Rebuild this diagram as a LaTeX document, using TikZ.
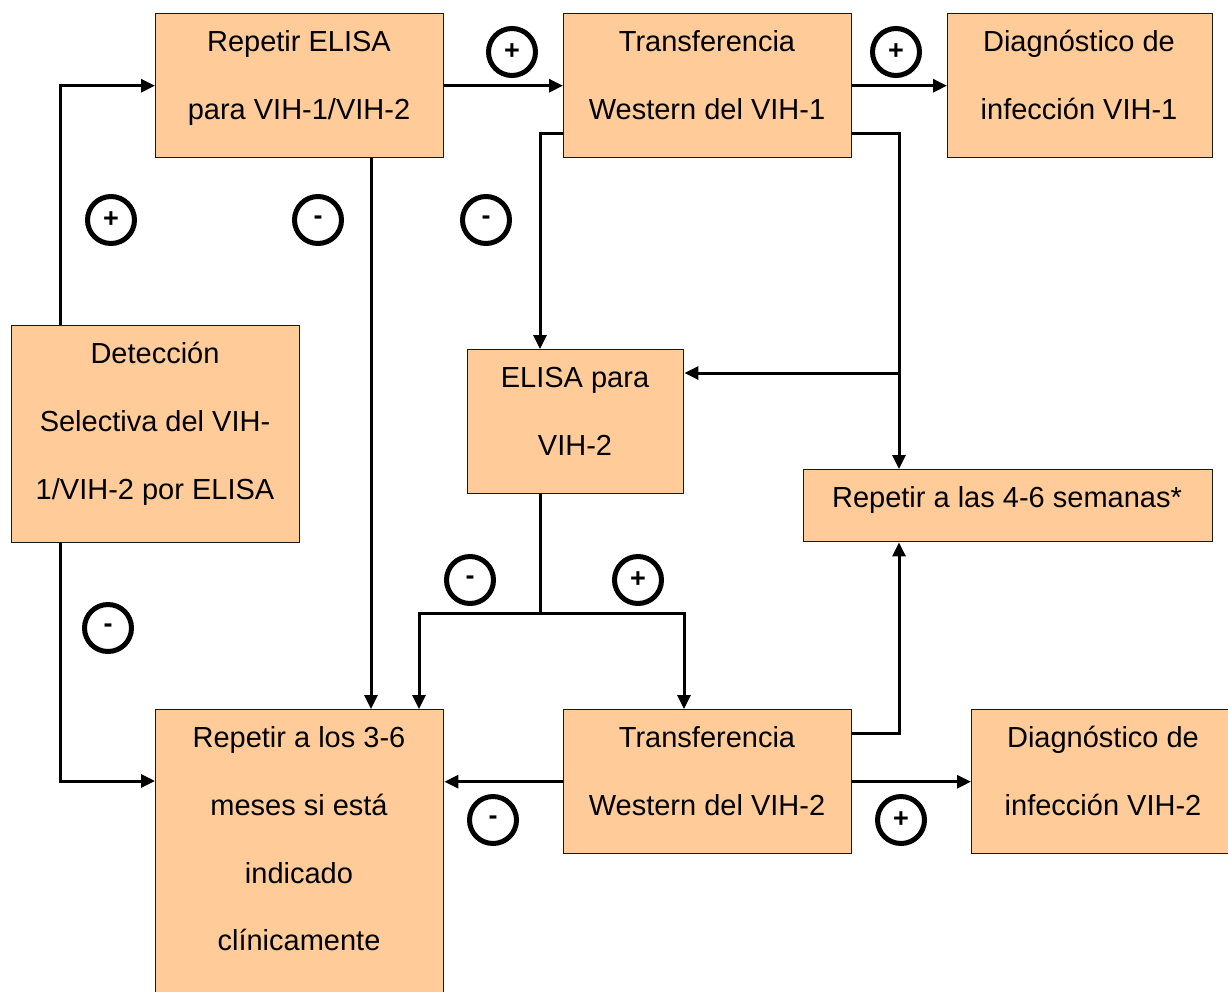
\documentclass[tikz,border=0pt]{standalone}
\usepackage{fontspec}
\setmainfont{Liberation Sans}
\usetikzlibrary{arrows.meta,calc}
\definecolor{boxfill}{HTML}{FFCC99}
\begin{document}
\begin{tikzpicture}[x=1pt,y=-1pt,
  box/.style={draw=black!90,line width=1.4pt,fill=boxfill,rectangle,inner sep=0pt,anchor=north west},
  txt/.style={anchor=base,inner sep=0pt,font=\fontsize{29}{34}\selectfont},
  conn/.style={line width=3pt,draw=black},
  arr/.style={conn,-{Triangle[length=14pt,width=13pt]}},
  sign/.style={circle,draw=black,line width=5pt,minimum size=47pt,inner sep=0pt,font=\fontsize{27}{30}\selectfont\bfseries}
]
\useasboundingbox (0,0) rectangle (1228,991);
\clip (0,0) rectangle (1228,991);
% boxes
\node[box,minimum width=288pt,minimum height=144pt] (rep1) at (155,13) {};
\node[box,minimum width=288pt,minimum height=144pt] (wb1) at (563,13) {};
\node[box,minimum width=265pt,minimum height=144pt] (dg1) at (947,13) {};
\node[box,minimum width=288pt,minimum height=217pt] (det) at (11,325) {};
\node[box,minimum width=216pt,minimum height=144pt] (el2) at (467,349) {};
\node[box,minimum width=409pt,minimum height=72pt] (r46) at (803,469) {};
\node[box,minimum width=288pt,minimum height=300pt] (r36) at (155,709) {};
\node[box,minimum width=288pt,minimum height=144pt] (wb2) at (563,709) {};
\node[box,minimum width=264pt,minimum height=144pt] (dg2) at (971,709) {};
% texts
\node[txt] (rep1a) at (299,51) {Repetir ELISA};
\node[txt] (rep1b) at (299,119) {para VIH-1/VIH-2};
\node[txt] (wb1a) at (707,51) {Transferencia};
\node[txt] (wb1b) at (707,119) {Western del VIH-1};
\node[txt] (dg1a) at (1079,51) {Diagnóstico de};
\node[txt] (dg1b) at (1079,119) {infección VIH-1};
\node[txt] (deta) at (155,363) {Detección};
\node[txt] (detb) at (155,431) {Selectiva del VIH-};
\node[txt] (detc) at (155,499) {1/VIH-2 por ELISA};
\node[txt] (el2a) at (575,387) {ELISA para};
\node[txt] (el2b) at (575,455) {VIH-2};
\node[txt] (r46a) at (1007,507) {Repetir a las 4-6 semanas*};
\node[txt] (r36a) at (299,747) {Repetir a los 3-6};
\node[txt] (r36b) at (299,815) {meses si está};
\node[txt] (r36c) at (299,883) {indicado};
\node[txt] (r36d) at (299,950) {clínicamente};
\node[txt] (wb2a) at (707,747) {Transferencia};
\node[txt] (wb2b) at (707,815) {Western del VIH-2};
\node[txt] (dg2a) at (1103,747) {Diagnóstico de};
\node[txt] (dg2b) at (1103,815) {infección VIH-2};
% junctions
\coordinate (j1) at (899,373);
\coordinate (j2) at (540,613);
% connectors
\draw[arr] ([xshift=49pt]det.north west) |- (rep1.west);
\draw[arr] (rep1.east) -- (wb1.west);
\draw[arr] (wb1.east) -- (dg1.west);
\draw[arr] ([xshift=216pt]rep1.south west) -- ([xshift=216pt]r36.north west);
\draw[arr] ([yshift=-120pt]wb1.north west) -| ([xshift=73pt]el2.north west);
\draw[arr] ([yshift=-120pt]wb1.north east) -| ([xshift=96pt]r46.north west);
\draw[arr] (j1) -- (j1 -| el2.east);
\draw[conn] ([xshift=73pt]el2.south west) -- (j2);
\draw[arr] (j2) -| ([xshift=264pt]r36.north west);
\draw[arr] (j2) -| ([xshift=121pt]wb2.north west);
\draw[arr] ([xshift=49pt]det.south west) |- ([yshift=-72pt]r36.north west);
\draw[arr] (wb2.west) -- (wb2.west -| r36.east);
\draw[arr] (wb2.east) -- (dg2.west);
\draw[arr] ([yshift=-24pt]wb2.north east) -| ([xshift=96pt]r46.south west);
% signs
\node[sign] (s1) at (512,52) {+};
\node[sign] (s2) at (896,52) {+};
\node[sign] (s3) at (111,220) {+};
\node[sign] (s4) at (318,220) {-};
\node[sign] (s5) at (486,220) {-};
\node[sign] (s6) at (108,628) {-};
\node[sign] (s7) at (470,580) {-};
\node[sign] (s8) at (638,580) {+};
\node[sign] (s9) at (493,820) {-};
\node[sign] (s10) at (901,820) {+};
\end{tikzpicture}
\end{document}
